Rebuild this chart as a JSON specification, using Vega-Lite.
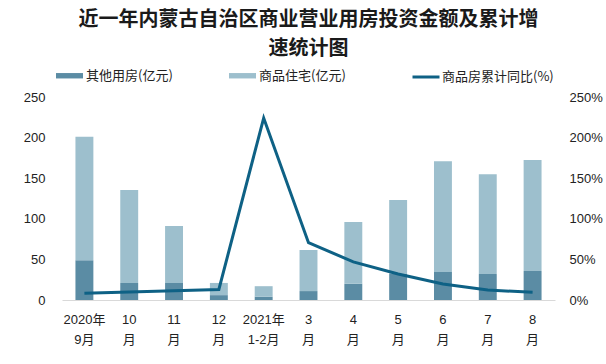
{
  "$schema": "https://vega.github.io/schema/vega-lite/v6.json",
  "autosize": {"type": "none"},
  "width": 493,
  "height": 203,
  "padding": {"left": 62, "top": 97, "right": 51, "bottom": 64},
  "background": "white",
  "config": {
    "view": {"stroke": null},
    "font": "Liberation Sans, Noto Sans CJK SC",
    "axis": {"labelFont": "Liberation Sans, Noto Sans CJK SC", "labelColor": "#222222", "labelFontSize": 13},
    "legend": {"labelFont": "Noto Sans CJK SC", "labelFontSize": 13, "labelColor": "#222222"}
  },
  "title": {
    "text": ["近一年内蒙古自治区商业营业用房投资金额及累计增", "速统计图"],
    "anchor": "middle",
    "frame": "group",
    "font": "Noto Sans CJK SC",
    "fontSize": 20,
    "fontWeight": "bold",
    "lineHeight": 29,
    "color": "#1a1a1a",
    "offset": 3
  },
  "datasets": {
    "bars": [
      {"month": "2020年|9月", "type": "其他用房(亿元)", "value": 49},
      {"month": "2020年|9月", "type": "商品住宅(亿元)", "value": 152},
      {"month": "10|月", "type": "其他用房(亿元)", "value": 21},
      {"month": "10|月", "type": "商品住宅(亿元)", "value": 114.5},
      {"month": "11|月", "type": "其他用房(亿元)", "value": 21},
      {"month": "11|月", "type": "商品住宅(亿元)", "value": 70},
      {"month": "12|月", "type": "其他用房(亿元)", "value": 6},
      {"month": "12|月", "type": "商品住宅(亿元)", "value": 15},
      {"month": "2021年|1-2月", "type": "其他用房(亿元)", "value": 4},
      {"month": "2021年|1-2月", "type": "商品住宅(亿元)", "value": 13},
      {"month": "3|月", "type": "其他用房(亿元)", "value": 11},
      {"month": "3|月", "type": "商品住宅(亿元)", "value": 50.6},
      {"month": "4|月", "type": "其他用房(亿元)", "value": 20},
      {"month": "4|月", "type": "商品住宅(亿元)", "value": 76},
      {"month": "5|月", "type": "其他用房(亿元)", "value": 32},
      {"month": "5|月", "type": "商品住宅(亿元)", "value": 91},
      {"month": "6|月", "type": "其他用房(亿元)", "value": 34.5},
      {"month": "6|月", "type": "商品住宅(亿元)", "value": 136.5},
      {"month": "7|月", "type": "其他用房(亿元)", "value": 32},
      {"month": "7|月", "type": "商品住宅(亿元)", "value": 123},
      {"month": "8|月", "type": "其他用房(亿元)", "value": 35.7},
      {"month": "8|月", "type": "商品住宅(亿元)", "value": 136.7}
    ],
    "line": [
      {"month": "2020年|9月", "series": "商品房累计同比(%)", "rate": 8.2},
      {"month": "10|月", "series": "商品房累计同比(%)", "rate": 10},
      {"month": "11|月", "series": "商品房累计同比(%)", "rate": 11.5},
      {"month": "12|月", "series": "商品房累计同比(%)", "rate": 13},
      {"month": "2021年|1-2月", "series": "商品房累计同比(%)", "rate": 224},
      {"month": "3|月", "series": "商品房累计同比(%)", "rate": 70.6},
      {"month": "4|月", "series": "商品房累计同比(%)", "rate": 47},
      {"month": "5|月", "series": "商品房累计同比(%)", "rate": 32},
      {"month": "6|月", "series": "商品房累计同比(%)", "rate": 19.7},
      {"month": "7|月", "series": "商品房累计同比(%)", "rate": 12.3},
      {"month": "8|月", "series": "商品房累计同比(%)", "rate": 9.4}
    ]
  },
  "encoding": {
    "x": {
      "field": "month",
      "type": "nominal",
      "sort": null,
      "scale": {"paddingInner": 0.6, "paddingOuter": 0.3},
      "axis": {
        "title": null,
        "labelAngle": 0,
        "ticks": false,
        "domainColor": "#d9d9d9",
        "domainWidth": 1,
        "labelPadding": 13,
        "labelLineHeight": 20,
        "labelExpr": "split(datum.label, '|')"
      }
    }
  },
  "layer": [
    {
      "data": {"name": "bars"},
      "mark": {"type": "bar"},
      "encoding": {
        "y": {
          "field": "value",
          "type": "quantitative",
          "stack": "zero",
          "scale": {"domain": [0, 250], "nice": false},
          "axis": {"title": null, "orient": "left", "values": [0, 50, 100, 150, 200, 250], "domain": false, "ticks": false, "grid": false, "labelPadding": 17}
        },
        "color": {
          "field": "type",
          "type": "nominal",
          "scale": {"domain": ["其他用房(亿元)", "商品住宅(亿元)"], "range": ["#5b8ca4", "#9dbfcd"]},
          "legend": {
            "title": null,
            "orient": "none",
            "direction": "horizontal",
            "legendX": -6,
            "legendY": -35,
            "symbolType": "M-1,-0.2H1V0.2H-1Z",
            "symbolSize": 729,
            "symbolStrokeWidth": 0,
            "labelOffset": 3,
            "columnPadding": 56
          }
        },
        "order": {"field": "type", "sort": "ascending"}
      }
    },
    {
      "data": {"name": "line"},
      "mark": {"type": "line", "strokeWidth": 3},
      "encoding": {
        "y": {
          "field": "rate",
          "type": "quantitative",
          "scale": {"domain": [0, 250], "nice": false},
          "axis": {"title": null, "orient": "right", "values": [0, 50, 100, 150, 200, 250], "domain": false, "ticks": false, "grid": false, "labelPadding": 14, "labelExpr": "datum.value + '%'"}
        },
        "color": {
          "field": "series",
          "type": "nominal",
          "scale": {"range": ["#0e6185"]},
          "legend": {
            "title": null,
            "orient": "none",
            "direction": "horizontal",
            "legendX": 349,
            "legendY": -35,
            "symbolType": "stroke",
            "symbolSize": 729,
            "symbolStrokeWidth": 3,
            "labelOffset": 1
          }
        }
      }
    }
  ],
  "resolve": {"scale": {"y": "independent", "color": "independent"}, "legend": {"color": "independent"}}
}
